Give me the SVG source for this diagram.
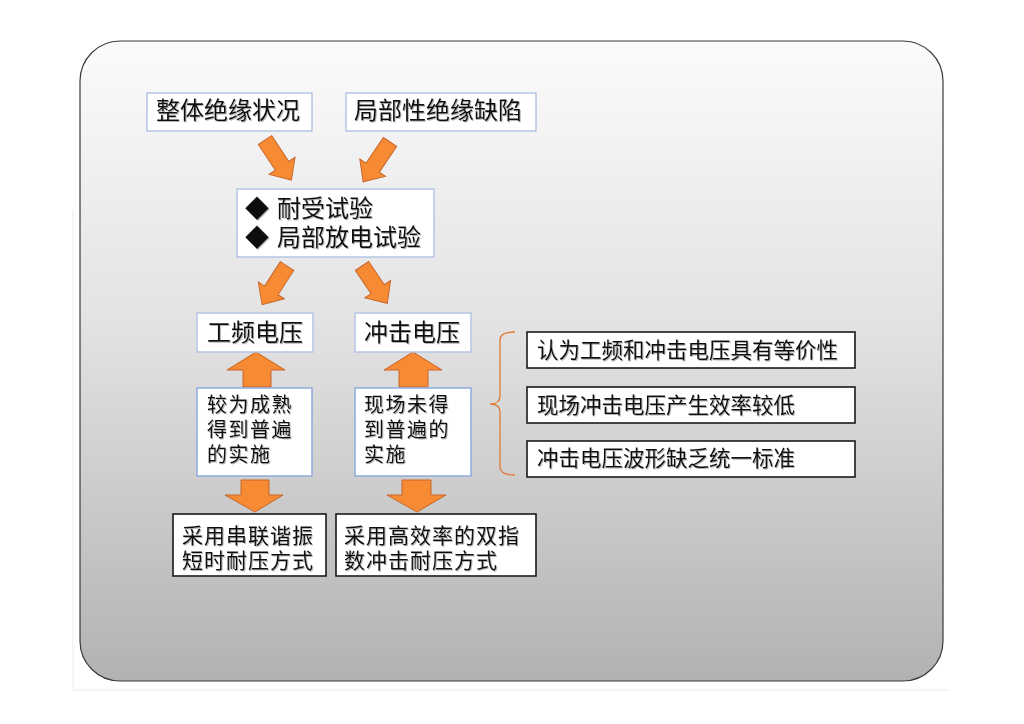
<svg xmlns="http://www.w3.org/2000/svg" width="1024" height="724" viewBox="0 0 1024 724">
<defs>
<linearGradient id="bg" x1="0" y1="0" x2="0" y2="1">
<stop offset="0" stop-color="#fbfbfb"/>
<stop offset="0.45" stop-color="#e2e2e2"/>
<stop offset="1" stop-color="#b2b2b2"/>
</linearGradient>
<filter id="sh" x="-5%" y="-20%" width="110%" height="140%">
<feDropShadow dx="1" dy="1" stdDeviation="0.4" flood-color="#777" flood-opacity="0.55"/>
</filter>
</defs>
<style>
text{font-family:"Noto Sans CJK SC","Noto Sans CJK JP",sans-serif;fill:#111;filter:url(#sh)}
.t24{font-size:24px}
.t20{font-size:20px;letter-spacing:1.5px}
.t21{font-size:21px;letter-spacing:1px}
.t22{font-size:21.5px}
.bb{fill:#fff;stroke:#b4c5e4;stroke-width:1.5}
.bd{fill:#fff;stroke:#8eaadb;stroke-width:1.5}
.bk{fill:#fff;stroke:#1a1a1a;stroke-width:1.6}
.ar{fill:#f68b33;stroke:#c9652a;stroke-width:1}
</style>
<rect x="0" y="0" width="1024" height="724" fill="#ffffff"/>
<path d="M73,210 V690 H948" fill="none" stroke="#ececec" stroke-width="1"/>
<rect x="80" y="41" width="863" height="640" rx="40" ry="40" fill="url(#bg)" stroke="#3a3a3a" stroke-width="1.2"/>

<g id="connectors">
<path class="ar" transform="translate(265,140) rotate(56.6)" d="M0,-8 H31 V-15.5 L48,0 L31,15.5 V8 H0 Z"/>
<path class="ar" transform="translate(390,142) rotate(124)" d="M0,-8 H31 V-15.5 L48,0 L31,15.5 V8 H0 Z"/>
<path class="ar" transform="translate(287,266) rotate(122.7)" d="M0,-8 H29 V-15.5 L46,0 L29,15.5 V8 H0 Z"/>
<path class="ar" transform="translate(362,266) rotate(55.9)" d="M0,-8 H28 V-15.5 L45,0 L28,15.5 V8 H0 Z"/>
<path class="ar" d="M243,387 V370 H227 L256,352 L285,370 H271 V387 Z"/>
<path class="ar" d="M399,387 V370 H384 L413,352 L442,370 H428 V387 Z"/>
<path class="ar" d="M241,480 H269 V495 H283 L255,512 L225,495 H241 Z"/>
<path class="ar" d="M402,480 H431 V495 H446 L417,512 L387,495 H402 Z"/>
<path d="M515,332 Q500,332 500,340 V396 Q500,404 490,404 Q500,404 500,412 V467 Q500,475 515,475" fill="none" stroke="#e07b39" stroke-width="1.3"/>
</g>

<g id="n1"><rect class="bb" x="147" y="93" width="165" height="38"/><text class="t24" x="156" y="119">整体绝缘状况</text></g>
<g id="n2"><rect class="bb" x="346" y="93" width="190" height="38"/><text class="t24" x="354" y="119">局部性绝缘缺陷</text></g>
<g id="n3"><rect class="bb" x="237" y="189" width="197" height="68"/>
<text class="t24"><tspan x="245" y="217">◆</tspan><tspan x="277" y="217">耐受试验</tspan><tspan x="245" y="246">◆</tspan><tspan x="277" y="246">局部放电试验</tspan></text></g>
<g id="n4"><rect class="bb" x="197" y="313" width="116" height="39"/><text class="t24" x="207" y="341">工频电压</text></g>
<g id="n5"><rect class="bb" x="355" y="313" width="116" height="39"/><text class="t24" x="364" y="341">冲击电压</text></g>
<g id="n6"><rect class="bd" x="197" y="388" width="115" height="88"/>
<text class="t20"><tspan x="207" y="412">较为成熟</tspan><tspan x="207" y="437">得到普遍</tspan><tspan x="207" y="462">的实施</tspan></text></g>
<g id="n7"><rect class="bd" x="355" y="388" width="116" height="88"/>
<text class="t20"><tspan x="364" y="412">现场未得</tspan><tspan x="364" y="437">到普遍的</tspan><tspan x="364" y="462">实施</tspan></text></g>
<g id="n8"><rect class="bk" x="173" y="514" width="153" height="62"/>
<text class="t21"><tspan x="182" y="543">采用串联谐振</tspan><tspan x="182" y="568">短时耐压方式</tspan></text></g>
<g id="n9"><rect class="bk" x="336" y="514" width="200" height="62"/>
<text class="t21"><tspan x="344" y="543">采用高效率的双指</tspan><tspan x="344" y="568">数冲击耐压方式</tspan></text></g>
<g id="n10"><rect class="bk" x="527" y="332" width="328" height="36"/><text class="t22" x="537" y="358">认为工频和冲击电压具有等价性</text></g>
<g id="n11"><rect class="bk" x="527" y="387" width="328" height="36"/><text class="t22" x="537" y="413">现场冲击电压产生效率较低</text></g>
<g id="n12"><rect class="bk" x="527" y="441" width="328" height="36"/><text class="t22" x="537" y="466">冲击电压波形缺乏统一标准</text></g>
</svg>
